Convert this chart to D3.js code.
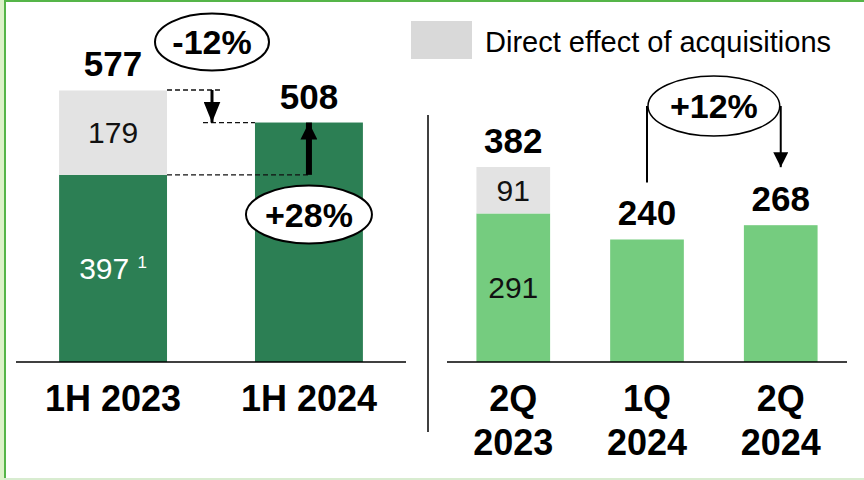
<!DOCTYPE html>
<html>
<head>
<meta charset="utf-8">
<script src="https://cdn.jsdelivr.net/npm/d3@7"></script>
<style>
  html, body { margin: 0; padding: 0; background: #fff; }
  svg { display: block; font-family: Arial, "Liberation Sans", sans-serif; }
</style>
</head>
<body>
<svg id="chart" width="864" height="480"></svg>
<script>
(function() {

// half-year panel
const halfCats = ["1H 2023", "1H 2024"];
const halfOrganic = [397, 508];
const halfAcq = [179, 0];
const halfTotals = [577, 508];

// quarter panel
const qCats = ["2Q 2023", "1Q 2024", "2Q 2024"];
const qOrganic = [291, 240, 268];
const qAcq = [91, 0, 0];
const qTotals = [382, 240, 268];

const legendLabel = "Direct effect of acquisitions";
const changeLabels = { halfTotal: "-12%", halfOrganic: "+28%", quarter: "+12%" };

const svg = d3.select("#chart");
const baseY = 362;
const darkGreen = "#2c7f54", lightGreen = "#75cc7f", acqGrey = "#e3e3e3";

// frame
svg.append("rect").attr("x", 0).attr("y", 0).attr("width", 4).attr("height", 480).attr("fill", "#dcf2c8");
svg.append("rect").attr("x", 4).attr("y", 0).attr("width", 2).attr("height", 480).attr("fill", "#55b548");
svg.append("rect").attr("x", 4).attr("y", 0).attr("width", 860).attr("height", 2).attr("fill", "#55b548");
svg.append("rect").attr("x", 4).attr("y", 478).attr("width", 860).attr("height", 2).attr("fill", "#d8ecd0");

// arrow markers
const defs = svg.append("defs");
function marker(id, w, h) {
    defs.append("marker")
        .attr("id", id)
        .attr("markerUnits", "userSpaceOnUse")
        .attr("viewBox", `0 0 ${h} ${w}`)
        .attr("refX", h).attr("refY", w / 2)
        .attr("markerWidth", h).attr("markerHeight", w)
        .attr("orient", "auto")
        .append("path")
        .attr("d", `M0,0L${h},${w / 2}L0,${w}Z`)
        .attr("fill", "#000");
}
marker("headSmall", 17, 21);
marker("headBig", 17, 17);
marker("headQ", 15, 15);

/**
 * Draw one stacked panel
 */
function drawPanel(cats, organic, acq, totals, opts) {
    const x = d3.scaleBand().domain(cats).range(opts.xRange)
        .paddingInner(0.449).paddingOuter(0.22);
    const y = d3.scaleLinear().domain([0, d3.max(totals)]).range([baseY, opts.topY]);
    const g = svg.append("g");

    g.selectAll("rect.org").data(cats).enter().append("rect")
        .attr("x", d => x(d)).attr("width", x.bandwidth())
        .attr("y", (d, i) => y(organic[i]))
        .attr("height", (d, i) => baseY - y(organic[i]))
        .attr("fill", opts.color);

    g.selectAll("rect.acq").data(cats).enter().append("rect")
        .attr("x", d => x(d)).attr("width", x.bandwidth())
        .attr("y", (d, i) => y(organic[i] + acq[i]))
        .attr("height", (d, i) => y(organic[i]) - y(organic[i] + acq[i]))
        .attr("fill", acqGrey);

    // totals
    g.selectAll("text.tot").data(cats).enter().append("text")
        .attr("x", d => x(d) + x.bandwidth() / 2)
        .attr("y", (d, i) => y(totals[i]) - 14)
        .attr("text-anchor", "middle")
        .attr("font-size", 35).attr("font-weight", "bold")
        .text((d, i) => totals[i]);

    // segment labels where acquisitions exist
    cats.forEach((c, i) => {
        if (!acq[i]) return;
        const cx = x(c) + x.bandwidth() / 2;
        const mA = (y(organic[i]) + y(organic[i] + acq[i])) / 2;
        g.append("text").attr("x", cx).attr("y", mA + 10.5)
            .attr("text-anchor", "middle").attr("font-size", 30)
            .attr("fill", "#111").text(acq[i]);
        const mO = (y(organic[i]) + baseY) / 2;
        const t = g.append("text").attr("x", cx).attr("text-anchor", "middle")
            .attr("font-size", 30).attr("fill", opts.orgText);
        if (opts.footnote) {
            // sits high in the bar, like the original
            t.attr("y", mO + 10.5).text(organic[i] + " ")
                .append("tspan").attr("font-size", 17).attr("dy", -11).text("1");
        } else {
            t.attr("y", mO + 10.5).text(organic[i]);
        }
    });

    // baseline
    g.append("line").attr("x1", opts.xRange[0]).attr("x2", opts.xRange[1])
        .attr("y1", baseY).attr("y2", baseY)
        .attr("stroke", "#000").attr("stroke-width", 1.5);

    // category labels
    const lab = g.selectAll("text.cat").data(cats).enter().append("text")
        .attr("x", d => x(d) + x.bandwidth() / 2)
        .attr("y", 411)
        .attr("text-anchor", "middle")
        .attr("font-size", 36).attr("font-weight", "bold");
    if (opts.twoLine) {
        lab.each(function(d) {
            const parts = d.split(" ");
            d3.select(this).append("tspan").attr("x", x(d) + x.bandwidth() / 2).text(parts[0]);
            d3.select(this).append("tspan").attr("x", x(d) + x.bandwidth() / 2).attr("dy", 44).text(parts[1]);
        });
    } else {
        lab.text(d => d);
    }
    return { x, y, g };
}

const left = drawPanel(halfCats, halfOrganic, halfAcq, halfTotals,
    { xRange: [16, 406], topY: 90, color: darkGreen, orgText: "#fff", footnote: true });
const right = drawPanel(qCats, qOrganic, qAcq, qTotals,
    { xRange: [447, 847], topY: 167, color: lightGreen, orgText: "#111", twoLine: true });

// separator
svg.append("line").attr("x1", 428).attr("x2", 428).attr("y1", 115).attr("y2", 432)
    .attr("stroke", "#000").attr("stroke-width", 1.5);

// legend
svg.append("rect").attr("x", 411).attr("y", 21).attr("width", 61).attr("height", 38).attr("fill", "#d9d9d9");
svg.append("text").attr("x", 485).attr("y", 52).attr("font-size", 29).attr("fill", "#000").text(legendLabel);

// left panel annotations
(function() {
    const { x, y } = left;
    const bw = x.bandwidth();
    const x0r = x(halfCats[0]) + bw, x1l = x(halfCats[1]);
    const x1c = x1l + bw / 2;
    const mid = (x0r + x1l) / 2 + 1;
    const yTot0 = y(halfTotals[0]), yTot1 = y(halfTotals[1]), yOrg0 = y(halfOrganic[0]);
    const dash = { stroke: "#111", "stroke-width": 1.3, "stroke-dasharray": "5,3" };
    const dl = (x1, x2, yy) => {
        const l = svg.append("line").attr("x1", x1).attr("x2", x2).attr("y1", yy).attr("y2", yy);
        Object.entries(dash).forEach(([k, v]) => l.attr(k, v));
    };
    dl(x0r, mid + 8, yTot0);
    dl(mid - 9, x1l, yTot1);
    dl(x0r, x1c, yOrg0);

    svg.append("line").attr("x1", mid).attr("x2", mid).attr("y1", yTot0).attr("y2", yTot1)
        .attr("stroke", "#000").attr("stroke-width", 3).attr("marker-end", "url(#headSmall)");
    svg.append("line").attr("x1", x1c).attr("x2", x1c).attr("y1", yOrg0).attr("y2", yTot1)
        .attr("stroke", "#000").attr("stroke-width", 6).attr("marker-end", "url(#headBig)");

    const bubble = (cx, cy, rx, ry, label) => {
        svg.append("ellipse").attr("cx", cx).attr("cy", cy).attr("rx", rx).attr("ry", ry)
            .attr("fill", "#fff").attr("stroke", "#000").attr("stroke-width", 2);
        svg.append("text").attr("x", cx).attr("y", cy + 12).attr("text-anchor", "middle")
            .attr("font-size", 34).attr("font-weight", "bold").text(label);
    };
    bubble(mid, 42, 57, 28.5, changeLabels.halfTotal);
    bubble(x1c, 214.5, 63, 29, changeLabels.halfOrganic);
})();

// right panel annotation
(function() {
    const { x, y } = right;
    const bw = x.bandwidth();
    const c1 = x(qCats[1]) + bw / 2, c2 = x(qCats[2]) + bw / 2;
    const cy = 106;
    svg.append("line").attr("x1", c1).attr("x2", c1).attr("y1", cy).attr("y2", y(qTotals[1]) - 57)
        .attr("stroke", "#000").attr("stroke-width", 2);
    svg.append("line").attr("x1", c2).attr("x2", c2).attr("y1", cy).attr("y2", y(qTotals[2]) - 58)
        .attr("stroke", "#000").attr("stroke-width", 2).attr("marker-end", "url(#headQ)");
    const cx = (c1 + c2) / 2;
    svg.append("ellipse").attr("cx", cx).attr("cy", cy).attr("rx", (c2 - c1) / 2 - 1).attr("ry", 30)
        .attr("fill", "#fff").attr("stroke", "#000").attr("stroke-width", 1.5);
    svg.append("text").attr("x", cx).attr("y", cy + 12).attr("text-anchor", "middle")
        .attr("font-size", 34).attr("font-weight", "bold").text(changeLabels.quarter);
})();

})();
</script>
</body>
</html>
